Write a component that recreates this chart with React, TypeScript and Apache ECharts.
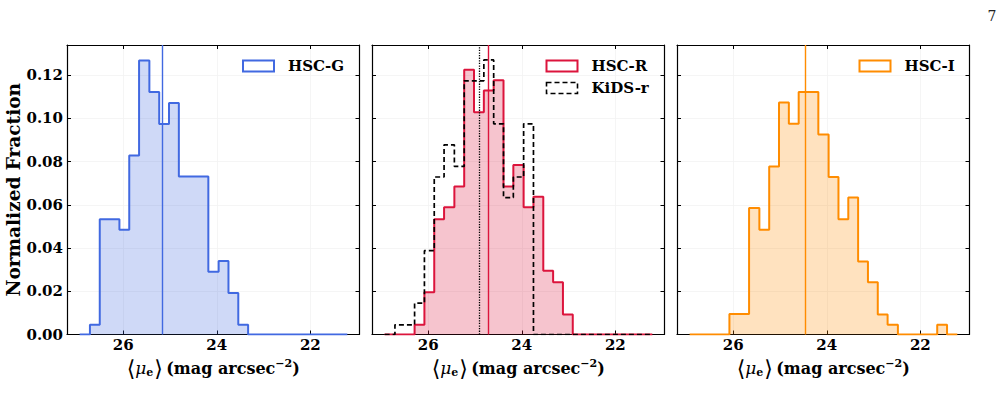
import React, { useEffect, useRef } from "react";
import * as echarts from "echarts";

// Shared bin edges (mag arcsec^-2), left to right as drawn (bright end on the right)
const binEdges = [
  26.93, 26.71, 26.5, 26.29, 26.08, 25.87, 25.66, 25.44, 25.23, 25.02, 24.81,
  24.6, 24.39, 24.18, 23.96, 23.75, 23.54, 23.33, 23.12, 22.91, 22.7, 22.48,
  22.27, 22.06, 21.85, 21.64, 21.43, 21.21,
];

// Normalized fractions per bin
const hscG = [
  0, 0.0045, 0.0534, 0.0534, 0.0485, 0.0829, 0.1268, 0.1122, 0.0974, 0.1072,
  0.0731, 0.0731, 0.0731, 0.0291, 0.034, 0.0192, 0.0045, 0, 0, 0, 0, 0, 0, 0,
  0, 0, 0,
];
const hscR = [
  0, 0, 0, 0.0045, 0.0195, 0.0534, 0.0589, 0.0685, 0.1225, 0.1029, 0.1129,
  0.1177, 0.0685, 0.0785, 0.0589, 0.0638, 0.0295, 0.0242, 0.0092, 0, 0, 0, 0,
  0, 0, 0, 0,
];
const kidsR = [
  0, 0.0045, 0.0045, 0.0145, 0.0388, 0.0729, 0.0878, 0.0778, 0.1174, 0.1174,
  0.1271, 0.0975, 0.0634, 0.0729, 0.0975, 0, 0, 0, 0, 0, 0, 0, 0, 0, 0, 0, 0,
];
const hscI = [
  0, 0, 0, 0, 0.0095, 0.0095, 0.0585, 0.0485, 0.0778, 0.1074, 0.0975, 0.1122,
  0.1122, 0.0926, 0.0729, 0.0534, 0.0634, 0.0338, 0.0242, 0.0092, 0.0045, 0, 0,
  0, 0, 0.0045, 0,
];

// Medians
const medianG = 25.17;
const medianR = 24.71;
const medianKids = 24.9;
const medianI = 24.46;

const xTicks = [26, 24, 22];
const yTicks = [0, 0.02, 0.04, 0.06, 0.08, 0.1, 0.12];
const X_MIN = 20.95;
const X_MAX = 27.2;
const Y_MAX = 0.134;

const BLUE = "#4169E1";
const RED = "#DC143C";
const ORANGE = "#FF8C00";

const FONT = "'DejaVu Serif', serif";

function steps(h: number[]) {
  const pts: number[][] = h.map((v, i) => [binEdges[i], v]);
  pts.push([binEdges[h.length], 0]);
  return pts;
}

const gridLefts = [67, 372, 677];

export default function App() {
  const ref = useRef<HTMLDivElement>(null);
  useEffect(() => {
    if (!ref.current) return;
    const chart = echarts.init(ref.current, null, { renderer: "svg" });

    const grids = gridLefts.map((l) => ({
      left: l,
      top: 45,
      width: 292.5,
      height: 289.5,
      containLabel: false,
    }));

    const xName =
      "{br|⟨}{mu|μ}{sub|e}{br|⟩} {t|(mag arcsec}{sup|−2}{t|)}";
    const xNameStyle = {
      color: "#000",
      rich: {
        br: { fontSize: 22, fontFamily: "'DejaVu Sans', sans-serif", color: "#000" },
        mu: { fontSize: 17, fontFamily: FONT, fontStyle: "italic", color: "#000" },
        sub: { fontSize: 11, fontFamily: FONT, fontWeight: "bold", padding: [8, 1, 0, 0], color: "#000" },
        t: { fontSize: 16, fontFamily: FONT, fontWeight: "bold", color: "#000" },
        sup: { fontSize: 11, fontFamily: FONT, fontWeight: "bold", padding: [0, 0, 10, 0], color: "#000" },
      },
    };

    const xAxes: any[] = [];
    const yAxes: any[] = [];
    for (let i = 0; i < 3; i++) {
      xAxes.push({
        type: "value",
        gridIndex: i,
        position: "bottom",
        min: X_MIN,
        max: X_MAX,
        inverse: true,
        axisLine: { show: true, onZero: false, lineStyle: { color: "#000", width: 1.2 } },
        axisTick: { show: true, inside: true, length: 4, customValues: xTicks, lineStyle: { color: "#000", width: 1 } },
        axisLabel: {
          show: true,
          customValues: xTicks,
          margin: 3,
          color: "#000",
          fontFamily: FONT,
          fontWeight: "bold",
          fontSize: 15,
        },
        splitLine: { show: true, lineStyle: { color: "#f2f2f2", width: 0.8 } },
        name: xName,
        nameLocation: "middle",
        nameGap: 21,
        nameTextStyle: xNameStyle,
      });
      yAxes.push({
        type: "value",
        gridIndex: i,
        position: "left",
        min: 0,
        max: Y_MAX,
        interval: 0.02,
        axisLine: { show: true, onZero: false, lineStyle: { color: "#000", width: 1.2 } },
        axisTick: { show: true, inside: true, length: 4, customValues: yTicks, lineStyle: { color: "#000", width: 1 } },
        axisLabel: {
          show: i === 0,
          customValues: yTicks,
          margin: 4,
          color: "#000",
          fontFamily: FONT,
          fontWeight: "bold",
          fontSize: 15,
          formatter: (v: number) => v.toFixed(2),
        },
        splitLine: { show: true, lineStyle: { color: "#f2f2f2", width: 0.8 } },
        name: i === 0 ? "Normalized Fraction" : "",
        nameLocation: "middle",
        nameGap: 44,
        nameTextStyle: { color: "#000", fontFamily: FONT, fontWeight: "bold", fontSize: 18.5 },
      });
    }
    for (let i = 0; i < 3; i++) {
      xAxes.push({
        type: "value",
        gridIndex: i,
        position: "top",
        min: X_MIN,
        max: X_MAX,
        inverse: true,
        axisLine: { show: true, onZero: false, lineStyle: { color: "#000", width: 1.2 } },
        axisTick: { show: true, inside: true, length: 4, customValues: xTicks, lineStyle: { color: "#000", width: 1 } },
        axisLabel: { show: false },
        splitLine: { show: false },
      });
      yAxes.push({
        type: "value",
        gridIndex: i,
        position: "right",
        min: 0,
        max: Y_MAX,
        axisLine: { show: true, onZero: false, lineStyle: { color: "#000", width: 1.2 } },
        axisTick: { show: true, inside: true, length: 4, customValues: yTicks, lineStyle: { color: "#000", width: 1 } },
        axisLabel: { show: false },
        splitLine: { show: false },
      });
    }

    const median = (val: number, color: string, type: string = "solid", width = 1.4) => ({
      symbol: "none",
      silent: true,
      label: { show: false },
      lineStyle: { color, width, type },
      data: [{ xAxis: val }],
    });

    const histSeries = (
      name: string,
      data: number[],
      gi: number,
      color: string,
      fill: string | null,
      dashed = false,
      mark: any = null,
      z = 2
    ) => {
      const s: any = {
        name,
        type: "line",
        xAxisIndex: gi,
        yAxisIndex: gi,
        step: "end",
        data: steps(data),
        showSymbol: false,
        symbol: "none",
        z,
        lineStyle: { color, width: dashed ? 1.7 : 2, type: dashed ? [5, 3] : "solid" },
      };
      if (fill) s.areaStyle = { color: fill, opacity: 1 };
      if (mark) s.markLine = mark;
      return s;
    };

    const series = [
      histSeries("HSC-G", hscG, 0, BLUE, "rgba(65,105,225,0.25)", false, median(medianG, BLUE)),
      histSeries("HSC-R", hscR, 1, RED, "rgba(220,20,60,0.25)", false, median(medianR, RED)),
      histSeries("KiDS-r", kidsR, 1, "#000", null, true, median(medianKids, "#000", "dotted", 1.3), 3),
      histSeries("HSC-I", hscI, 2, ORANGE, "rgba(255,140,0,0.25)", false, median(medianI, ORANGE)),
    ];

    const legendItem = (x: number, y: number, label: string, color: string, dashed = false) => [
      {
        type: "rect",
        shape: { x, y, width: 31, height: 11 },
        style: { fill: "#fff", stroke: color, lineWidth: dashed ? 1.6 : 2, lineDash: dashed ? [5, 3] : null },
        z: 10,
      },
      {
        type: "text",
        x: x + 45,
        y: y + 5.5,
        style: {
          text: label,
          font: `bold 15px ${FONT}`,
          fill: "#000",
          verticalAlign: "middle",
          align: "left",
        },
        z: 10,
      },
    ];

    const graphic: any[] = [
      ...legendItem(243, 60.5, "HSC-G", BLUE),
      ...legendItem(546.5, 60.5, "HSC-R", RED),
      ...legendItem(546.5, 82.5, "KiDS-r", "#000", true),
      ...legendItem(859.5, 60.5, "HSC-I", ORANGE),
      {
        type: "text",
        x: 992,
        y: 16,
        style: { text: "7", font: "14px 'DejaVu Serif', serif", fill: "#222", align: "center", verticalAlign: "middle" },
      },
    ];

    chart.setOption({
      animation: false,
      backgroundColor: "#fff",
      grid: grids,
      xAxis: xAxes,
      yAxis: yAxes,
      series,
      graphic,
    });
    return () => chart.dispose();
  }, []);
  return (
    <div
      ref={ref}
      style={{ position: "absolute", left: 0, top: 0, width: 1005, height: 402 }}
    />
  );
}
